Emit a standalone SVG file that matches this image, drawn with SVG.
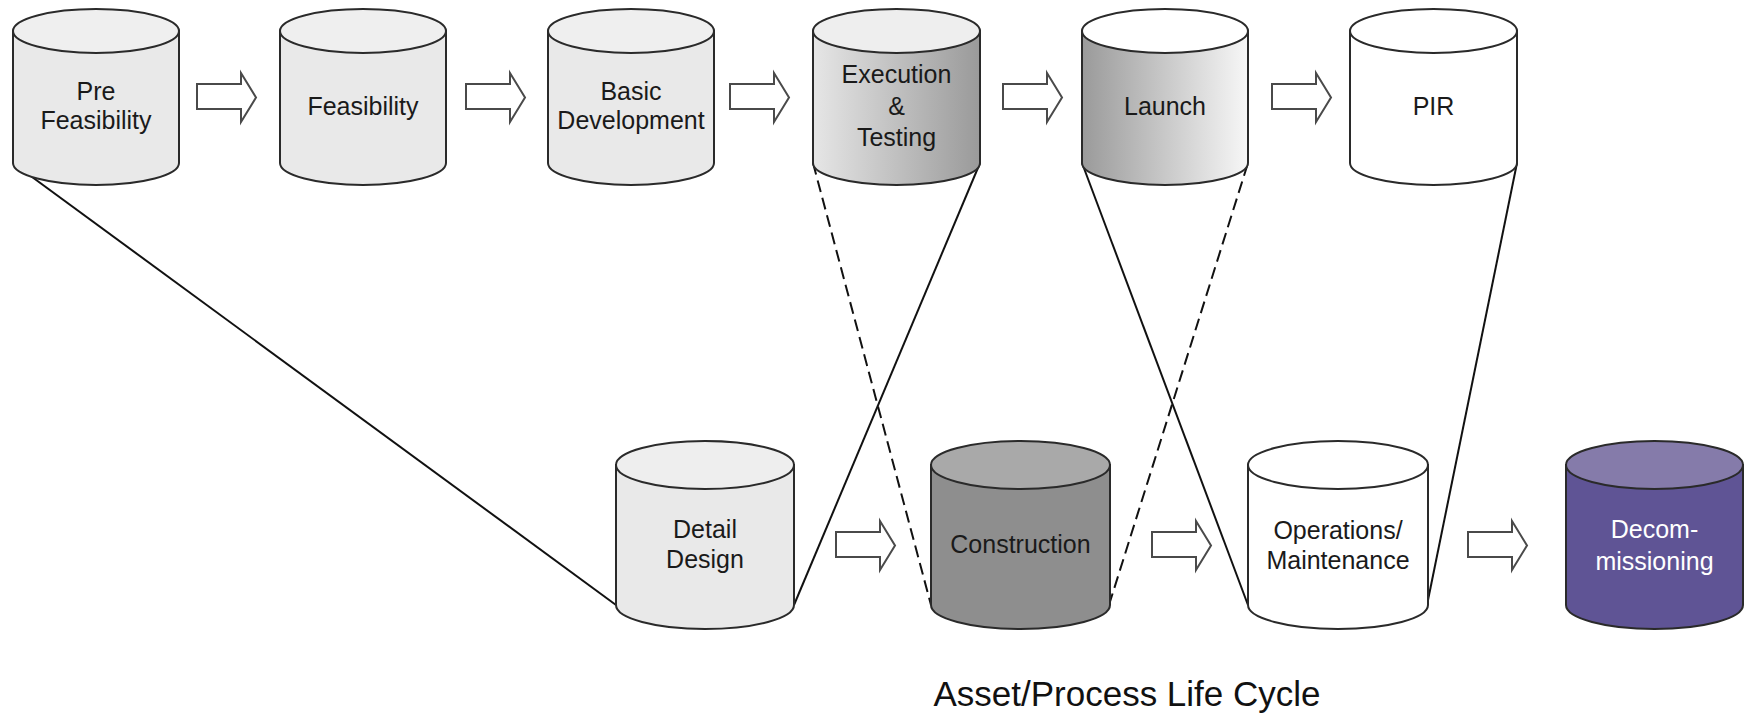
<svg xmlns="http://www.w3.org/2000/svg" width="1748" height="714" viewBox="0 0 1748 714">
<defs>
<linearGradient id="gExec" x1="0" y1="0" x2="1" y2="0"><stop offset="0" stop-color="#e6e6e6"/><stop offset="1" stop-color="#9a9a9a"/></linearGradient>
<linearGradient id="gLaunch" x1="0" y1="0" x2="1" y2="0"><stop offset="0" stop-color="#9a9a9a"/><stop offset="1" stop-color="#f7f7f7"/></linearGradient>
<style>
.cyl{stroke:#2a2a2a;stroke-width:2}
.lbl{font-family:"Liberation Sans",Arial,sans-serif;font-size:25px;text-anchor:middle;fill:#1a1a1a}
.arrow{fill:#ffffff;stroke:#4a4a4a;stroke-width:2;stroke-linejoin:miter}
.con{fill:none;stroke:#111111;stroke-width:2}
.dash{stroke-dasharray:12 6}
</style>
</defs>
<rect width="1748" height="714" fill="#ffffff"/>
<g id="connectors">
<line class="con" x1="13" y1="163" x2="616" y2="605"/>
<line class="con" x1="794" y1="605" x2="980" y2="163"/>
<line class="con dash" x1="813" y1="163" x2="931" y2="605"/>
<line class="con dash" x1="1109" y1="605" x2="1248" y2="163"/>
<line class="con" x1="1082" y1="163" x2="1248" y2="605"/>
<line class="con" x1="1517" y1="163" x2="1427" y2="605"/>
</g>
<g id="arrows">
<polygon class="arrow" points="197,84 241,84 241,73 256,97.5 241,122 241,109 197,109"/>
<polygon class="arrow" points="466,84 510,84 510,73 525,97.5 510,122 510,109 466,109"/>
<polygon class="arrow" points="730,84 774,84 774,73 789,97.5 774,122 774,109 730,109"/>
<polygon class="arrow" points="1003,84 1047,84 1047,73 1062,97.5 1047,122 1047,109 1003,109"/>
<polygon class="arrow" points="1272,84 1316,84 1316,73 1331,97.5 1316,122 1316,109 1272,109"/>
<polygon class="arrow" points="836,532 880,532 880,521 895,545.5 880,570 880,557 836,557"/>
<polygon class="arrow" points="1152,532 1196,532 1196,521 1211,545.5 1196,570 1196,557 1152,557"/>
<polygon class="arrow" points="1468,532 1512,532 1512,521 1527,545.5 1512,570 1512,557 1468,557"/>
</g>
<g id="pre-feasibility">
<path class="cyl" fill="#e9e9e9" d="M13,31 V163 A83,22 0 0 0 179,163 V31 Z"/>
<ellipse class="cyl" fill="#efefef" cx="96" cy="31" rx="83" ry="22"/>
<text class="lbl" x="96" y="100">Pre</text>
<text class="lbl" x="96" y="129">Feasibility</text>
</g>
<g id="feasibility">
<path class="cyl" fill="#e9e9e9" d="M280,31 V163 A83,22 0 0 0 446,163 V31 Z"/>
<ellipse class="cyl" fill="#efefef" cx="363" cy="31" rx="83" ry="22"/>
<text class="lbl" x="363" y="115">Feasibility</text>
</g>
<g id="basic-development">
<path class="cyl" fill="#e9e9e9" d="M548,31 V163 A83,22 0 0 0 714,163 V31 Z"/>
<ellipse class="cyl" fill="#efefef" cx="631" cy="31" rx="83" ry="22"/>
<text class="lbl" x="631" y="100">Basic</text>
<text class="lbl" x="631" y="129">Development</text>
</g>
<g id="execution-testing">
<path class="cyl" fill="url(#gExec)" d="M813,31 V163 A83.5,22 0 0 0 980,163 V31 Z"/>
<ellipse class="cyl" fill="#eeeeee" cx="896.5" cy="31" rx="83.5" ry="22"/>
<text class="lbl" x="896.5" y="83">Execution</text>
<text class="lbl" x="896.5" y="115">&amp;</text>
<text class="lbl" x="896.5" y="146">Testing</text>
</g>
<g id="launch">
<path class="cyl" fill="url(#gLaunch)" d="M1082,31 V163 A83,22 0 0 0 1248,163 V31 Z"/>
<ellipse class="cyl" fill="#ffffff" cx="1165" cy="31" rx="83" ry="22"/>
<text class="lbl" x="1165" y="115">Launch</text>
</g>
<g id="pir">
<path class="cyl" fill="#ffffff" d="M1350,31 V163 A83.5,22 0 0 0 1517,163 V31 Z"/>
<ellipse class="cyl" fill="#ffffff" cx="1433.5" cy="31" rx="83.5" ry="22"/>
<text class="lbl" x="1433.5" y="115">PIR</text>
</g>
<g id="detail-design">
<path class="cyl" fill="#e9e9e9" d="M616,465 V605 A89,24 0 0 0 794,605 V465 Z"/>
<ellipse class="cyl" fill="#eeeeee" cx="705" cy="465" rx="89" ry="24"/>
<text class="lbl" x="705" y="538">Detail</text>
<text class="lbl" x="705" y="568">Design</text>
</g>
<g id="construction">
<path class="cyl" fill="#8e8e8e" d="M931,465 V605 A89.5,24 0 0 0 1110,605 V465 Z"/>
<ellipse class="cyl" fill="#a9a9a9" cx="1020.5" cy="465" rx="89.5" ry="24"/>
<text class="lbl" x="1020.5" y="553">Construction</text>
</g>
<g id="operations-maintenance">
<path class="cyl" fill="#ffffff" d="M1248,465 V605 A90,24 0 0 0 1428,605 V465 Z"/>
<ellipse class="cyl" fill="#ffffff" cx="1338" cy="465" rx="90" ry="24"/>
<text class="lbl" x="1338" y="539">Operations/</text>
<text class="lbl" x="1338" y="569">Maintenance</text>
</g>
<g id="decommissioning">
<path class="cyl" fill="#5f5495" d="M1566,465 V605 A88.5,24 0 0 0 1743,605 V465 Z"/>
<ellipse class="cyl" fill="#857baa" cx="1654.5" cy="465" rx="88.5" ry="24"/>
<text class="lbl" x="1654.5" y="538" style="fill:#ffffff">Decom-</text>
<text class="lbl" x="1654.5" y="570" style="fill:#ffffff">missioning</text>
</g>
<g id="title">
<text x="1127" y="706" font-family="'Liberation Sans',Arial,sans-serif" font-size="35" text-anchor="middle" fill="#111111">Asset/Process Life Cycle</text>
</g>
</svg>
